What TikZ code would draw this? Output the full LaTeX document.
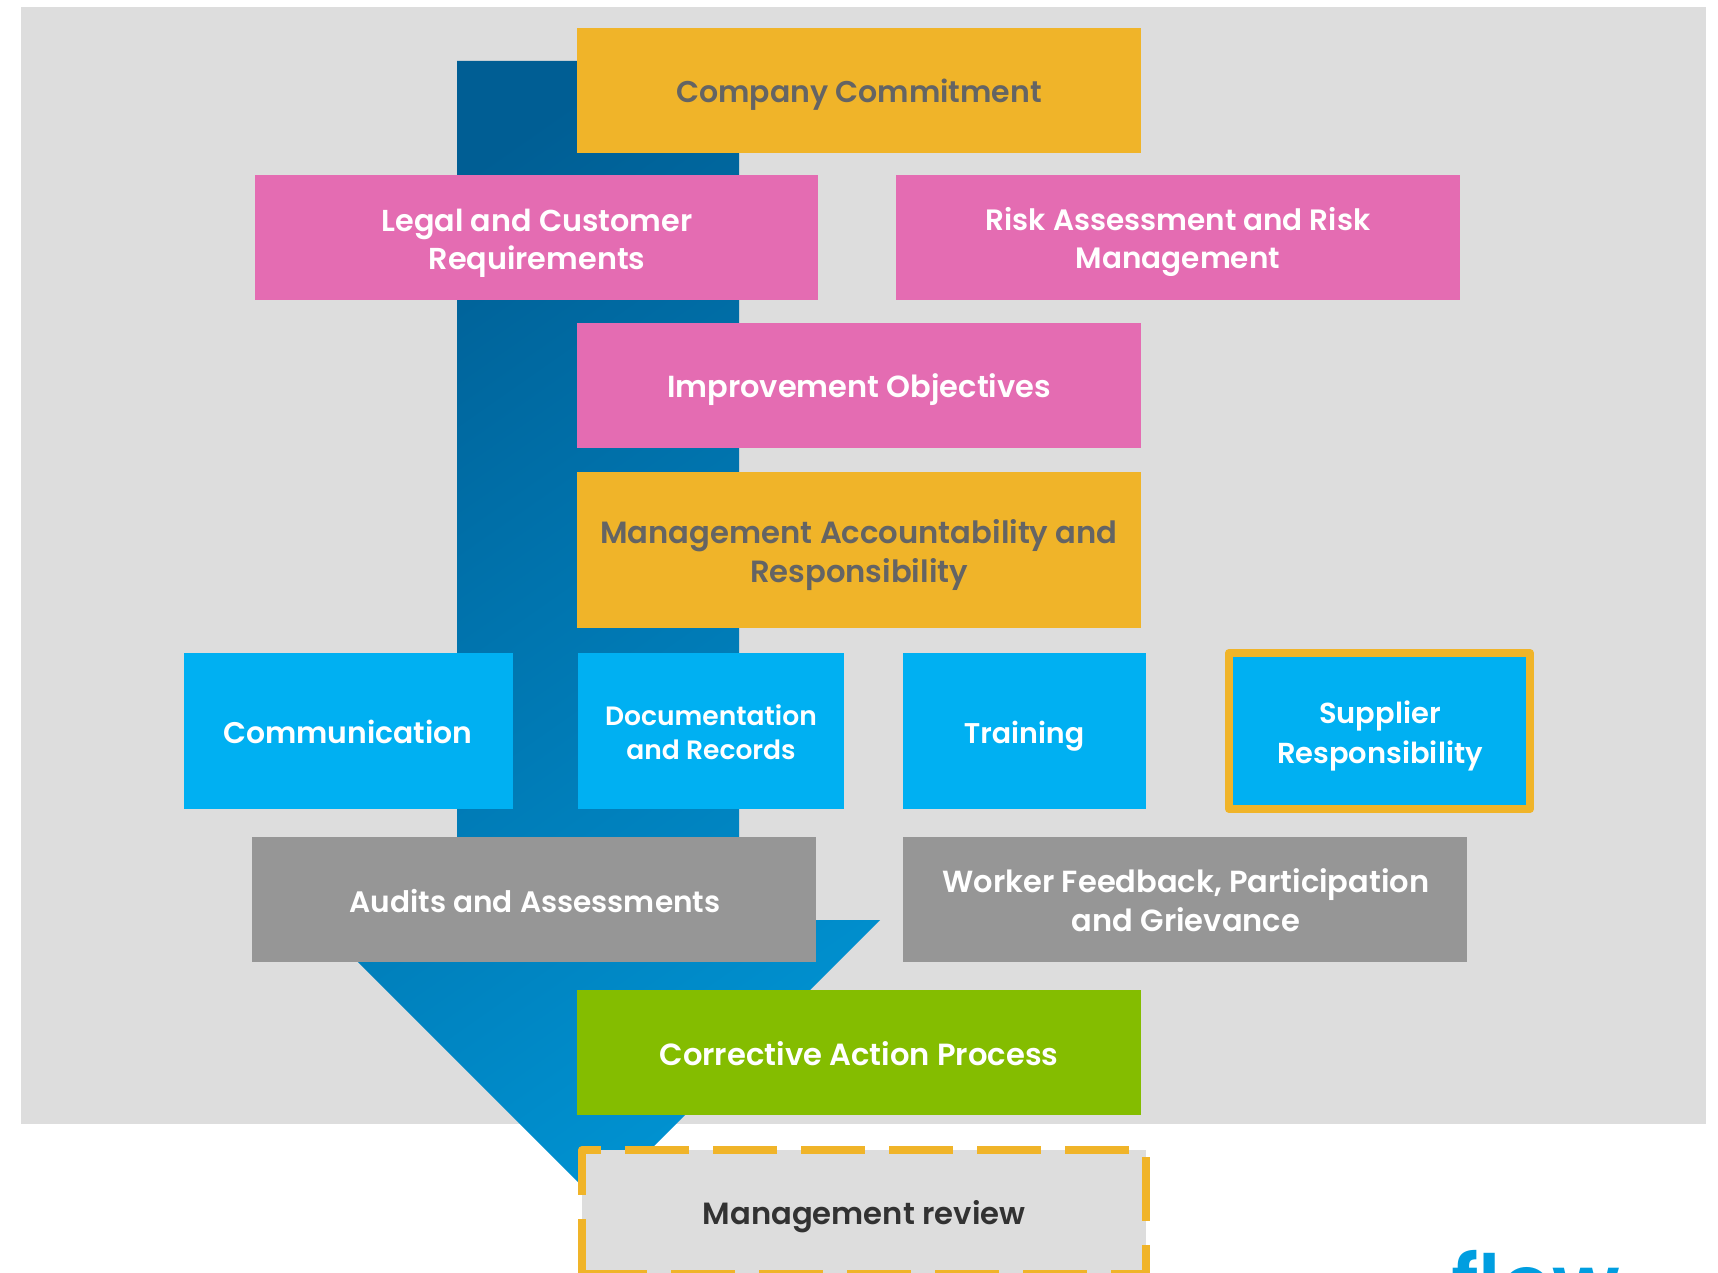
\documentclass[tikz,border=0pt]{standalone}
\usepackage{fontspec}
\setmainfont{Poppins}[BoldFont={Poppins SemiBold}]
\usetikzlibrary{calc}
\definecolor{bggray}{RGB}{221,221,221}
\definecolor{amber}{RGB}{240,180,41}
\definecolor{pinkbox}{RGB}{228,108,178}
\definecolor{skybox}{RGB}{0,176,242}
\definecolor{graybox}{RGB}{150,150,150}
\definecolor{greenbox}{RGB}{132,189,0}
\definecolor{darktxt}{RGB}{100,100,100}
\definecolor{blacktxt}{RGB}{50,50,50}
\definecolor{logoblue}{RGB}{0,158,224}
\definecolor{arrowa}{RGB}{0,94,148}
\definecolor{arrowb}{RGB}{0,145,208}
\tikzset{
  x=0.75pt,y=-0.75pt,
  box/.style={inner sep=0,outer sep=0,align=center,text=white,font=\fontsize{#1}{28.8}\selectfont\bfseries},
  amberbox/.style={box=#1,text=darktxt},
}
\begin{document}
\begin{tikzpicture}
\useasboundingbox (0,0) rectangle (1718,1273);
\clip (0,0) rectangle (1718,1273);
\fill[bggray] (21,7) rectangle (1706,1124);
% big arrow
\shade[top color=arrowa,bottom color=arrowb,shading angle=35]
  (457,61) -- (739,61) -- (739,920) -- (880,920) -- (598,1202) -- (316,920) -- (457,920) -- cycle;
% boxes
\fill[amber] (577,28) rectangle (1141,153);
\node[amberbox=22.5] (company) at (859,95) {Company Commitment};
\fill[pinkbox] (255,175) rectangle (818,300);
\node[box=22.7] (legal) at (537,243) {Legal and Customer\\Requirements};
\fill[pinkbox] (896,175) rectangle (1460,300);
\node[box=22.1] (risk) at (1178,242) {Risk Assessment and Risk\\Management};
\fill[pinkbox] (577,323) rectangle (1141,448);
\node[box=22.85] (improve) at (859,390) {Improvement Objectives};
\fill[amber] (577,472) rectangle (1141,628);
\node[amberbox=23,font=\fontsize{23}{29.6}\selectfont\bfseries] (account) at (859,555) {Management Accountability and\\Responsibility};
\fill[skybox] (184,653) rectangle (513,809);
\node[box=22.4] (comm) at (348,732) {Communication};
\fill[skybox] (578,653) rectangle (844,809);
\node[box=19.9,font=\fontsize{19.9}{25.5}\selectfont\bfseries] (docs) at (711,732) {Documentation\\and Records};
\fill[skybox] (903,653) rectangle (1146,809);
\node[box=21.4] (train) at (1024,736) {Training};
\fill[skybox] (1229,653) rectangle (1530,809);
\draw[amber,line width=6pt,line join=round] (1229,653) rectangle (1530,809);
\node[box=21.7,font=\fontsize{21.7}{29.5}\selectfont\bfseries] (supplier) at (1380,736) {Supplier\\Responsibility};
\fill[graybox] (252,837) rectangle (816,962);
\node[box=22.2] (audits) at (535,901) {Audits and Assessments};
\fill[graybox] (903,837) rectangle (1467,962);
\node[box=22.9] (worker) at (1186,900) {Worker Feedback, Participation\\and Grievance};
\fill[greenbox] (577,990) rectangle (1141,1115);
\node[box=22.95] (corrective) at (859,1054) {Corrective Action Process};
% management review
\fill[bggray] (582,1150) rectangle (1146,1274);
\draw[amber,line width=6pt,dash pattern=on 48pt off 18pt,dash phase=33.75pt]
  (582,1150) -- (1146,1150) -- (1146,1274) -- (582,1274);
\draw[amber,line width=6pt,line join=round] (601,1150) -- (582,1150) -- (582,1195);
\draw[amber,line width=6pt] (582,1219) -- (582,1278);
\node[box=23,text=blacktxt] (review) at (864,1217) {Management review};
% logo
\node[anchor=base west,inner sep=0,text=logoblue,font=\fontsize{60}{60}\selectfont\bfseries] (logo) at (1451,1312) {flow};
\end{tikzpicture}
\end{document}
